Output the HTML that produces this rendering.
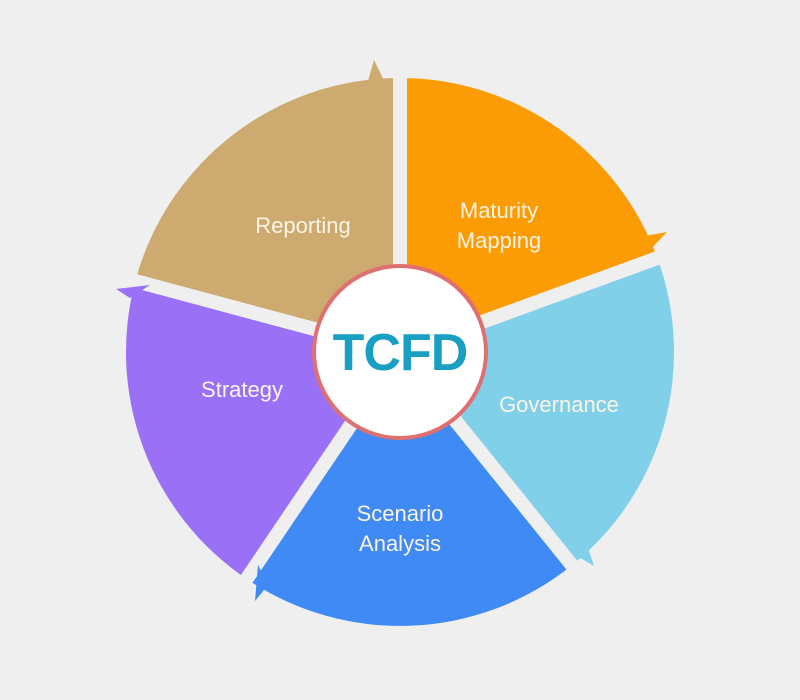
<!DOCTYPE html>
<html><head><meta charset="utf-8"><style>
html,body{margin:0;padding:0;background:#efefef;}
svg{display:block;}
text{font-family:"Liberation Sans",sans-serif;}
</style></head><body>
<svg width="800" height="700" viewBox="0 0 800 700">
<rect width="800" height="700" fill="#efefef"/>
<path d="M400 352 L135.3 281.1 A274 274 0 0 1 400 78 Z" fill="#cdaa70"/>
<path d="M400 352 L400 78 A274 274 0 0 1 657.5 258.3 Z" fill="#fb9c05"/>
<path d="M400 352 L657.5 258.3 A274 274 0 0 1 572.4 564.9 Z" fill="#80d0ea"/>
<path d="M400 352 L572.4 564.9 A274 274 0 0 1 246.8 579.1 Z" fill="#3f8af4"/>
<path d="M400 352 L246.8 579.1 A274 274 0 0 1 135.3 281.1 Z" fill="#9a70f7"/>
<g stroke="#efefef" stroke-width="14">
<line x1="400" y1="352" x2="400" y2="40"/>
<line x1="400" y1="352" x2="693" y2="245"/>
<line x1="400" y1="352" x2="596" y2="595"/>
<line x1="400" y1="352" x2="225" y2="611"/>
<line x1="400" y1="352" x2="98" y2="271"/>
</g>
<!-- arrowheads (tan: x~369-393) -->
<polygon points="368,81 374,60 393,99 393,80" fill="#cdaa70"/>
<polygon points="645,236 667,232 648,252" fill="#fb9c05"/>
<polygon points="588,548 594,566 572,553" fill="#80d0ea"/>
<polygon points="268,585 255,601 258,565" fill="#3f8af4"/>
<polygon points="130,298 116,289 150,285" fill="#9a70f7"/>
<circle cx="400" cy="352" r="86" fill="#ffffff" stroke="#e07070" stroke-width="4"/>
<text x="400" y="370" text-anchor="middle" font-size="52" font-weight="bold" fill="#1a9fc4" letter-spacing="-1">TCFD</text>
<g fill="#fbf4e6" font-size="22" text-anchor="middle">
<text x="303" y="233">Reporting</text>
<text x="499" y="218">Maturity</text>
<text x="499" y="248">Mapping</text>
<text x="242" y="397">Strategy</text>
<text x="559" y="412">Governance</text>
<text x="400" y="521">Scenario</text>
<text x="400" y="551">Analysis</text>
</g>
</svg>
</body></html>
